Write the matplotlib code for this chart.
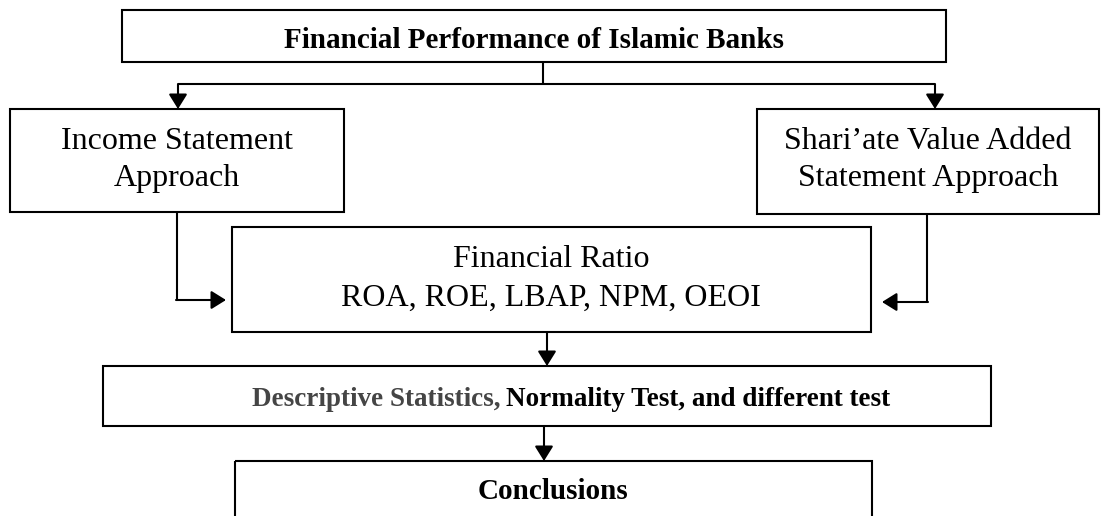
import matplotlib
matplotlib.use('Agg')
import matplotlib.pyplot as plt
from matplotlib.patches import Rectangle

plt.rcParams['font.family'] = ['Liberation Serif', 'DejaVu Serif']

# texts of the boxes
top_label = 'Financial Performance of Islamic Banks'
left_label = ['Income Statement', 'Approach']
right_label = ['Shari\u2019ate Value Added', 'Statement Approach']
ratio_label = ['Financial Ratio', 'ROA, ROE, LBAP, NPM, OEOI']
test_grey = 'Descriptive Statistics,'
test_black = 'Normality Test, and different test'
end_label = 'Conclusions'

W, H = 1104, 516
fig = plt.figure(figsize=(W / 100, H / 100), dpi=100)
ax = fig.add_axes([0, 0, 1, 1])
ax.set_xlim(0, W)
ax.set_ylim(H, 0)
ax.axis('off')

LW = 1.5
arrow_style = '-|>,head_length=0.45,head_width=0.28'


def box(x0, y0, x1, y1):
    ax.add_patch(Rectangle((x0, y0), x1 - x0, y1 - y0, fill=False,
                           lw=LW, ec='black'))


def line(xs, ys):
    ax.plot(xs, ys, color='black', lw=LW, solid_capstyle='butt',
            solid_joinstyle='miter')


def arrow(start, end):
    ax.annotate('', xy=end, xytext=start,
                arrowprops=dict(arrowstyle=arrow_style, lw=LW, color='black',
                                mutation_scale=20, shrinkA=0, shrinkB=0))


def lines_of(text_lines, cx, baselines, size=23, weight='normal'):
    for t, y in zip(text_lines, baselines):
        ax.text(cx, y, t, ha='center', va='baseline', fontsize=size,
                fontweight=weight)


# top box
box(122, 10, 946, 62)
lines_of([top_label], 534, [48], size=21, weight='bold')

# split to the two approaches
line([543, 543], [62, 84])
line([178, 935], [84, 84])
arrow((178, 84), (178, 109))
arrow((935, 84), (935, 109))

# approaches
box(10, 109, 344, 212)
lines_of(left_label, 177, [149, 186])
box(757, 109, 1099, 214)
lines_of(right_label, 928, [149, 186])

# financial ratio
box(232, 227, 871, 332)
lines_of(ratio_label, 551, [267, 306])
line([177, 177], [212, 300])
arrow((176, 300), (226, 300))
line([927, 927], [214, 302])
arrow((928, 302), (882, 302))

# tests
arrow((547, 332), (547, 366))
box(103, 366, 991, 426)
r = fig.canvas.get_renderer()
t1 = ax.text(0, 406, test_grey, ha='left', va='baseline', fontsize=19.5,
             fontweight='bold', color='#454545')
t2 = ax.text(0, 406, test_black, ha='left', va='baseline', fontsize=19.5,
             fontweight='bold', color='black')
w1 = t1.get_window_extent(r).width
start = 252
t1.set_x(start)
t2.set_x(start + w1 + 5)

# conclusions
arrow((544, 426), (544, 461))
box(235, 461, 872, 540)
lines_of([end_label], 553, [499], size=21, weight='bold')

fig.savefig('out.png', dpi=100)
